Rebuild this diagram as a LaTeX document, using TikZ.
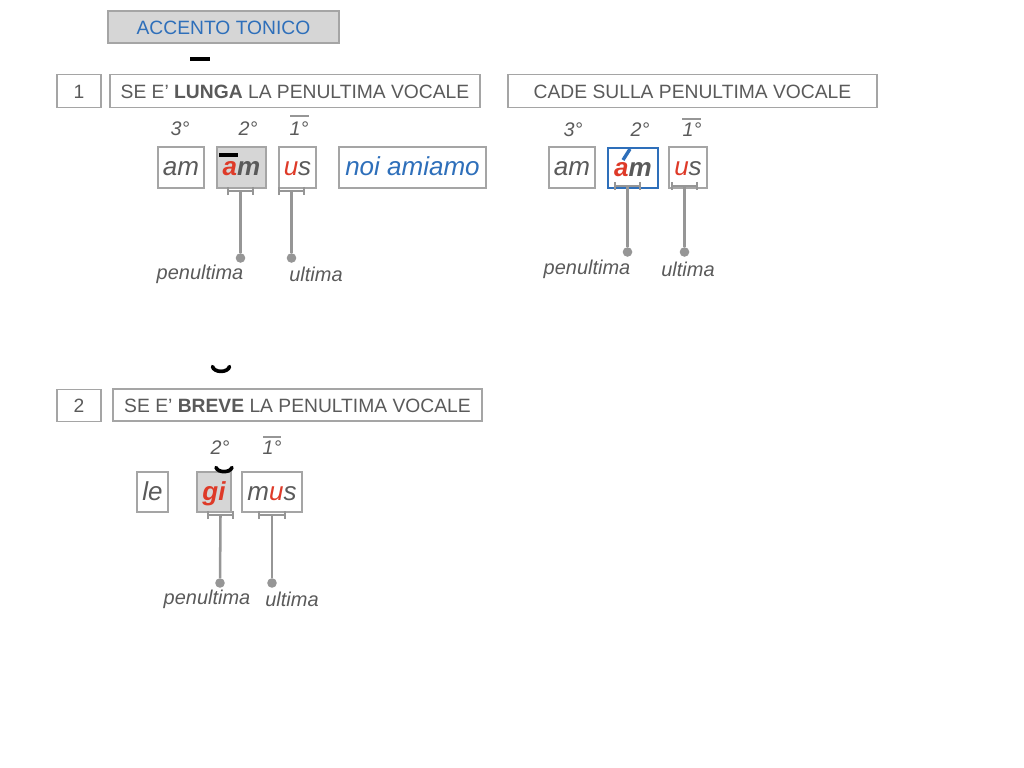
\documentclass[tikz,border=0pt]{standalone}
\usepackage{fontspec}
\setmainfont{Liberation Sans}
\usepackage{tikz}
\usetikzlibrary{arrows.meta, positioning}
\usepackage{xcolor}
\definecolor{inkgray}{RGB}{90,90,90}
\definecolor{accred}{RGB}{222,58,40}
\definecolor{accblue}{RGB}{46,111,186}
\definecolor{boxline}{RGB}{165,165,165}
\definecolor{boxfill}{RGB}{214,214,214}
\definecolor{guide}{RGB}{150,150,150}
\tikzstyle{headbox} = [rectangle, draw=boxline, line width=0.9pt, minimum height=0.825cm, inner sep=0pt, text height=1em, text depth=0pt, text=inkgray, font=\fontsize{13.7}{16}\selectfont]
\tikzstyle{wordbox} = [rectangle, draw=boxline, line width=0.9pt, minimum height=1.02cm, inner sep=0pt, text height=1.2em, text depth=0pt, text=inkgray, font=\fontsize{18.5}{22}\selectfont\itshape]
\tikzstyle{degree} = [text=inkgray, inner sep=1pt, font=\fontsize{14}{16}\selectfont\itshape]
\tikzstyle{syllname} = [text=inkgray, inner sep=1pt, font=\fontsize{14.2}{16}\selectfont\itshape]
\tikzstyle{bracket} = [guide, line width=1.5pt, {Bar[width=0.2cm]}-{Bar[width=0.2cm]}]
\tikzstyle{stalk} = [guide, line width=1.8pt]
\tikzstyle{knob} = [circle, fill=guide, inner sep=0pt, minimum size=0.24cm]
\tikzstyle{overbar} = [guide, line width=1.4pt]
\tikzstyle{longmark} = [black, line width=0.1cm]
\tikzstyle{shortmark} = [black, line width=2.6pt, line cap=round]
\newcommand{\rd}[1]{{\color{accred}#1}}

\begin{document}
\begin{tikzpicture}[x=0.025cm, y=-0.025cm]
\useasboundingbox (0,0) rectangle (1024,768);

% Title
\node (title) [headbox, fill=boxfill, minimum width=5.775cm, minimum height=0.8cm, text=accblue] at (223.5,27) {ACCENTO TONICO};
\draw[longmark] (190,59) -- (210,59);

% Case 1: long penultimate vowel
\node (num1) [headbox, minimum width=1.1cm] at (79,91) {1};
\node (lunga) [headbox, minimum width=9.25cm] at (295,91) {SE E' \textbf{LUNGA} LA PENULTIMA VOCALE};
\node (cade) [headbox, minimum width=9.225cm] at (692.5,91) {CADE SULLA PENULTIMA VOCALE};

\node (third1) [degree] at (180,129) {3°};
\node (second1) [degree] at (248,129) {2°};
\node (first1) [degree] at (299,129) {1°};
\draw[overbar] (290,116) -- (309,116);

\node (am1) [wordbox, minimum width=1.15cm] at (181,167.5) {am};
\node (am2) [wordbox, minimum width=1.225cm, fill=boxfill, font=\fontsize{18.5}{22}\selectfont\itshape\bfseries] at (241.5,167.5) {\rd{a}m};
\node (us1) [wordbox, minimum width=0.925cm] at (297.5,167.5) {\rd{u}s};
\node (noi) [wordbox, minimum width=3.675cm, text=accblue] at (412.5,167.5) {noi amiamo};
\draw[longmark] (219,155) -- (238,155);

\draw[bracket] (227,191) -- coordinate[midway] (b1) (254,191);
\draw[bracket] (278,191) -- coordinate[midway] (b2) (305,191);
\node (k1) [knob] at (b1 |- 0,258) {};
\node (k2) [knob] at (b2 |- 0,258) {};
\draw[stalk] (b1) -- (k1);
\draw[stalk] (b2) -- (k2);
\node (pen1) [syllname] at (200,274) {penultima};
\node (ult1) [syllname] at (316,274) {ultima};

% Stress falls on the penultimate
\node (third2) [degree] at (573,130) {3°};
\node (second2) [degree] at (640,130) {2°};
\node (first2) [degree] at (692,130) {1°};
\draw[overbar] (682,119) -- (701,119);

\node (am3) [wordbox, minimum width=1.15cm] at (572,167.5) {am};
\node (am4) [wordbox, minimum width=1.25cm, draw=accblue, line width=1.4pt, font=\fontsize{18.5}{22}\selectfont\itshape\bfseries] at (633,168) {\rd{a}m};
\node (us2) [wordbox, minimum width=0.95cm] at (688,167.5) {\rd{u}s};
\draw[accblue, line width=2.4pt] (623,160) -- (630,149);

\draw[bracket] (614,186) -- coordinate[midway] (b3) (641,186);
\draw[bracket] (671,186) -- coordinate[midway] (b4) (698,186);
\node (k3) [knob] at (b3 |- 0,252) {};
\node (k4) [knob] at (b4 |- 0,252) {};
\draw[stalk] (b3) -- (k3);
\draw[stalk] (b4) -- (k4);
\node (pen2) [syllname] at (587,269) {penultima};
\node (ult2) [syllname] at (688,269) {ultima};

% Case 2: short penultimate vowel
\draw[shortmark] (212.5,366.5) .. controls (214,373) and (228,373) .. (229.5,366.5);
\node (num2) [headbox, minimum width=1.1cm, minimum height=0.8cm] at (79,405.5) {2};
\node (breve) [headbox, minimum width=9.225cm, minimum height=0.8cm] at (297.5,405) {SE E' \textbf{BREVE} LA PENULTIMA VOCALE};

\node (second3) [degree] at (220,448) {2°};
\node (first3) [degree] at (272,448) {1°};
\draw[overbar] (263,437) -- (281,437);

\node (le) [wordbox, minimum width=0.775cm, minimum height=1cm] at (152.5,492) {le};
\node (gi) [wordbox, minimum width=0.85cm, minimum height=1cm, fill=boxfill, text=accred, font=\fontsize{18.5}{22}\selectfont\itshape\bfseries] at (214,492) {gi};
\node (mus) [wordbox, minimum width=1.5cm, minimum height=1cm] at (272,492) {m\rd{u}s};
\draw[shortmark] (216,467.5) .. controls (218,473) and (230,473) .. (232,467.5);

\draw[bracket] (207,515) -- coordinate[midway] (b5) (234,515);
\draw[bracket] (258,515) -- coordinate[midway] (b6) (286,515);
\node (k5) [knob] at (220,583) {};
\node (k6) [knob] at (272,583) {};
\draw[stalk] (b5) -- (k5);
\draw[stalk] (b6) -- (k6);
\node (pen3) [syllname] at (207,599) {penultima};
\node (ult3) [syllname] at (292,599) {ultima};

\end{tikzpicture}
\end{document}
